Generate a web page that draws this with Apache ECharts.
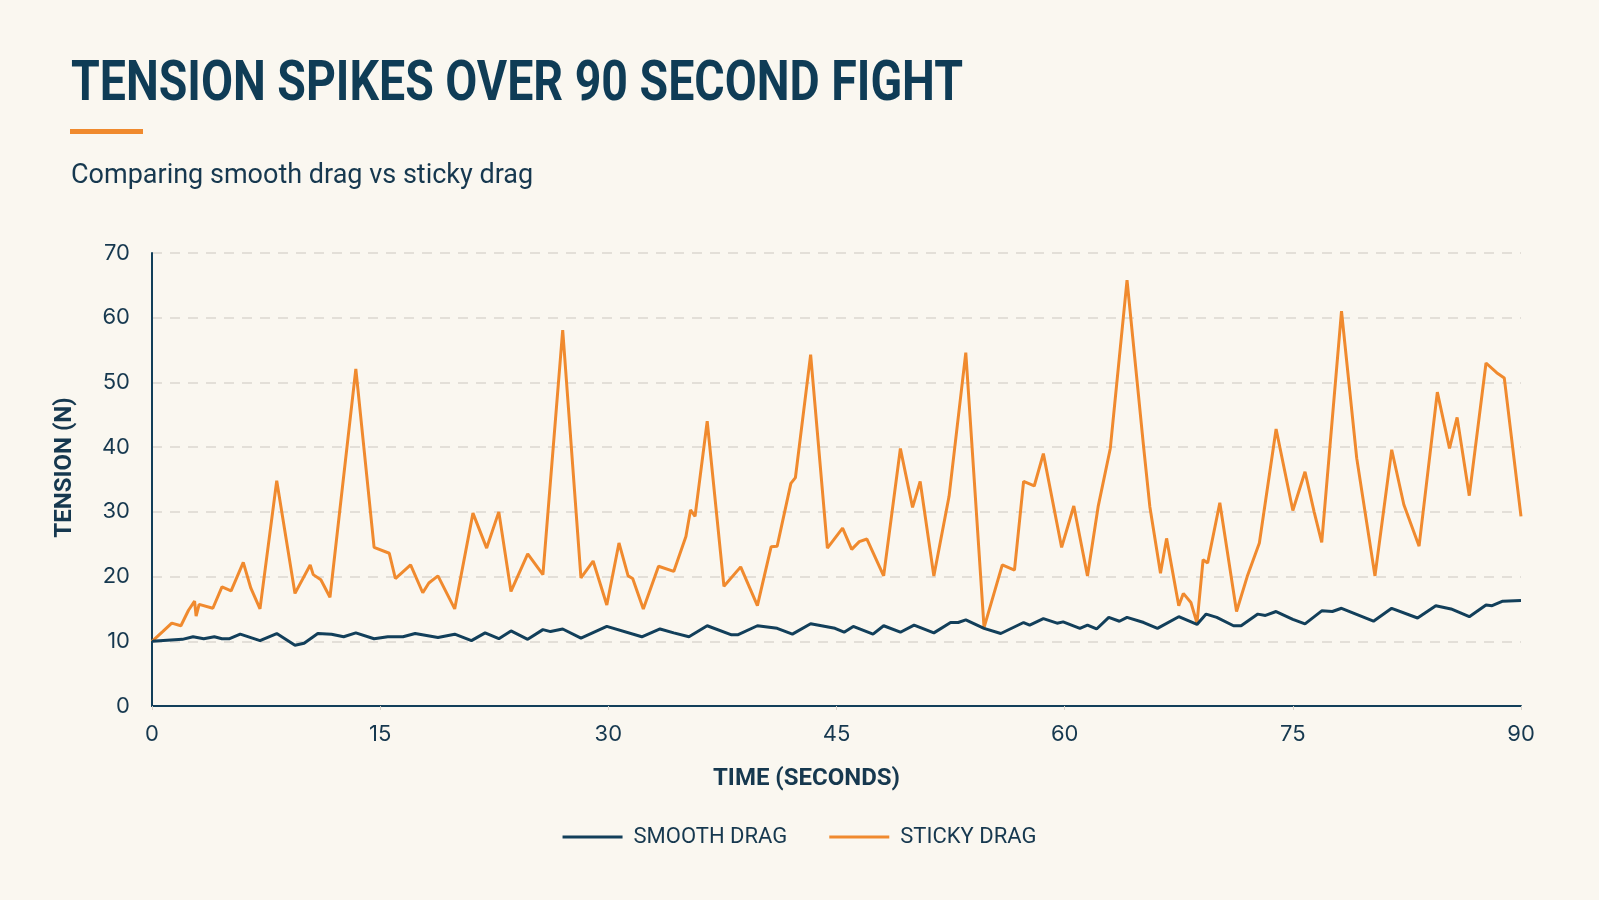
<!DOCTYPE html>
<html>
<head>
<meta charset="utf-8">
<script src="https://cdn.jsdelivr.net/npm/echarts@6/dist/echarts.min.js"></script>
<style>
html,body{margin:0;padding:0;background:#faf7f0;}
#chart{width:1599px;height:900px;}
</style>
</head>
<body>
<div id="chart"></div>
<script>
// ---- data ----
const xTicks = [0, 15, 30, 45, 60, 75, 90];
const yTicks = [0, 10, 20, 30, 40, 50, 60, 70];
const seriesNames = ['SMOOTH DRAG', 'STICKY DRAG'];
const titleText = 'TENSION SPIKES OVER 90 SECOND FIGHT';
const subtitleText = 'Comparing smooth drag vs sticky drag';

const smoothTime = [0,2.0,2.7,3.4,4.1,4.6,5.1,5.8,7.1,8.2,9.4,10.0,10.9,11.8,12.6,13.4,14.6,15.5,16.5,17.3,18.8,19.9,21.0,21.9,22.8,23.6,24.7,25.7,26.2,27.0,28.2,29.9,32.2,33.4,34.3,35.3,36.5,38.1,38.5,39.8,41.1,42.1,43.3,44.9,45.5,46.1,47.4,48.1,49.2,50.1,51.4,52.5,53.0,53.5,54.7,55.8,57.3,57.7,58.6,59.5,59.9,61.0,61.5,62.1,62.9,63.6,64.1,65.2,66.1,67.5,68.7,69.3,70.0,71.1,71.6,72.7,73.2,73.9,75.0,75.8,76.9,77.6,78.2,80.3,81.5,83.2,84.4,85.4,86.6,87.7,88.1,88.8,90.0];
const smoothTension = [10.0,10.3,10.7,10.4,10.7,10.4,10.4,11.1,10.1,11.2,9.4,9.7,11.2,11.1,10.7,11.3,10.4,10.7,10.7,11.2,10.6,11.1,10.1,11.3,10.4,11.6,10.3,11.8,11.5,11.9,10.5,12.3,10.7,11.9,11.3,10.7,12.4,11.0,11.0,12.4,12.0,11.1,12.7,12.0,11.4,12.3,11.1,12.4,11.4,12.5,11.3,12.9,12.9,13.3,12.0,11.2,12.9,12.5,13.5,12.8,13.0,12.0,12.5,11.9,13.7,13.1,13.7,12.9,12.0,13.8,12.6,14.2,13.7,12.4,12.4,14.2,14.0,14.6,13.4,12.7,14.7,14.6,15.1,13.1,15.1,13.6,15.5,15.0,13.8,15.6,15.5,16.2,16.3];

const stickyTime = [0,0.7,1.3,1.9,2.4,2.8,2.9,3.1,4.0,4.6,5.2,6.0,6.5,7.1,8.2,9.4,10.4,10.6,11.1,11.7,13.4,14.6,15.6,16.0,17.0,17.8,18.2,18.8,19.9,21.1,22.0,22.8,23.6,24.7,25.7,27.0,28.2,29.0,29.9,30.7,31.3,31.6,32.3,33.3,34.3,35.1,35.4,35.7,36.5,37.6,38.7,39.8,40.7,41.1,42.0,42.3,43.3,44.4,45.4,46.0,46.5,47.0,48.1,49.2,50.0,50.5,51.4,52.4,53.5,54.7,55.9,56.7,57.3,58.0,58.6,59.8,60.6,61.5,62.2,63.0,64.1,65.2,65.6,66.3,66.7,67.5,67.8,68.3,68.7,69.1,69.4,70.2,71.3,72.0,72.8,73.9,75.0,75.8,76.4,76.9,78.2,79.2,80.4,81.5,82.3,83.3,84.5,85.3,85.8,86.6,87.7,88.4,88.9,90.0];
const stickyTension = [10.0,11.5,12.8,12.4,14.8,16.2,13.9,15.7,15.1,18.4,17.8,22.2,18.2,15.0,34.8,17.4,21.8,20.3,19.5,16.8,52.1,24.5,23.6,19.7,21.8,17.5,19.0,20.1,15.0,29.8,24.4,30.0,17.7,23.5,20.3,58.1,19.8,22.4,15.6,25.2,20.1,19.7,15.0,21.6,20.8,26.2,30.3,29.3,44.0,18.5,21.5,15.5,24.6,24.7,34.4,35.3,54.3,24.4,27.5,24.2,25.4,25.8,20.1,39.8,30.7,34.7,20.1,32.4,54.6,12.1,21.8,21.0,34.7,34.0,39.0,24.5,30.9,20.1,30.8,39.8,65.8,39.8,30.8,20.5,25.9,15.5,17.4,16.0,12.8,22.6,22.1,31.4,14.6,20.0,25.2,42.8,30.2,36.2,30.0,25.3,61.0,38.3,20.1,39.6,31.1,24.7,48.5,39.8,44.6,32.5,53.0,51.5,50.7,29.3];

// ---- chart ----
const NAVY = '#123f5a';
const ORANGE = '#f08a2e';
const TEXT = '#16384f';
const zip = (a, b) => a.map((t, i) => [t, b[i]]);

// condensed title: measure and squeeze horizontally to the reference width
const TITLE_FONT = 'bold 56px Roboto';
const mctx = document.createElement('canvas').getContext('2d');
mctx.font = TITLE_FONT;
const titleScale = 892 / mctx.measureText(titleText).width;

const chart = echarts.init(document.getElementById('chart'), null, {renderer: 'canvas'});
chart.setOption({
  backgroundColor: '#faf7f0',
  animation: false,
  title: [
    {
      text: subtitleText,
      left: 66, top: 158,
      textStyle: {fontFamily: 'Roboto, sans-serif', fontWeight: 'normal', fontSize: 27, color: TEXT}
    }
  ],
  graphic: [
    {
      type: 'text', x: 71, y: 86, scaleX: titleScale, scaleY: 1, originX: 0, originY: 0,
      style: {text: titleText, x: 0, y: 0, align: 'left', verticalAlign: 'middle',
              font: TITLE_FONT, fill: '#0f3c56'}
    },
    {type: 'rect', left: 70, top: 129, shape: {width: 73, height: 5}, style: {fill: ORANGE}}
  ],
  legend: {
    data: seriesNames,
    bottom: 47,
    left: 'center',
    icon: 'rect',
    itemWidth: 60,
    itemHeight: 3,
    itemGap: 42,
    textStyle: {fontFamily: 'Roboto, sans-serif', fontSize: 22, color: TEXT, padding: [0, 0, 0, 6]}
  },
  grid: {left: 152, right: 78, top: 253, bottom: 194, containLabel: false},
  xAxis: {
    type: 'value', min: xTicks[0], max: xTicks[xTicks.length - 1], interval: 15,
    name: 'TIME (SECONDS)', nameLocation: 'middle', nameGap: 61,
    nameTextStyle: {fontFamily: 'Roboto, sans-serif', fontWeight: 'bold', fontSize: 24, color: TEXT, padding: [0, 60, 0, 0]},
    axisLine: {show: true, lineStyle: {color: NAVY, width: 2}},
    axisTick: {show: true, length: 4, lineStyle: {color: '#d8d4cc'}},
    axisLabel: {fontFamily: 'Inter, sans-serif', fontSize: 22, color: TEXT, margin: 17},
    splitLine: {show: false}
  },
  yAxis: {
    type: 'value', min: yTicks[0], max: yTicks[yTicks.length - 1], interval: 10,
    name: 'TENSION (N)', nameLocation: 'middle', nameGap: 75, nameRotate: 90,
    nameTextStyle: {fontFamily: 'Roboto, sans-serif', fontWeight: 'bold', fontSize: 24, color: TEXT, padding: [0, 0, 0, 24]},
    axisLine: {show: true, lineStyle: {color: NAVY, width: 2}},
    axisTick: {show: false},
    axisLabel: {fontFamily: 'Inter, sans-serif', fontSize: 22, color: TEXT, margin: 22},
    splitLine: {show: true, lineStyle: {color: '#dcd8d0', type: [10, 8], width: 1.5}}
  },
  series: [
    {
      name: seriesNames[0], type: 'line', data: zip(smoothTime, smoothTension),
      showSymbol: false, symbol: 'none', color: NAVY,
      lineStyle: {color: NAVY, width: 3}, z: 3
    },
    {
      name: seriesNames[1], type: 'line', data: zip(stickyTime, stickyTension),
      showSymbol: false, symbol: 'none', color: ORANGE,
      lineStyle: {color: ORANGE, width: 3}, z: 2
    }
  ]
});
</script>
</body>
</html>
